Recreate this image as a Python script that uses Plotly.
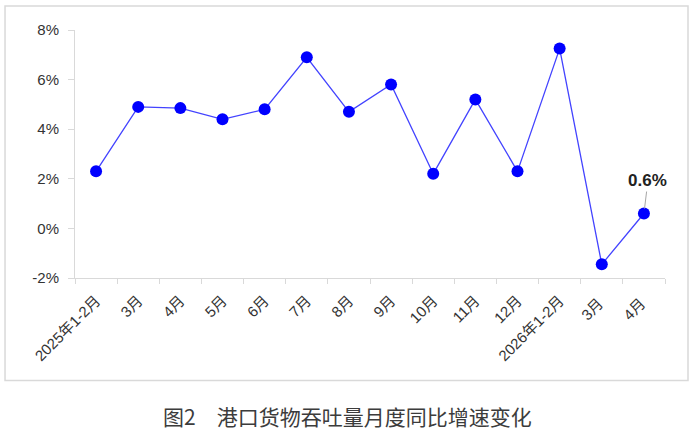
import plotly.graph_objects as go

months = ['2025年1-2月', '3月', '4月', '5月', '6月', '7月', '8月', '9月',
          '10月', '11月', '12月', '2026年1-2月', '3月 ', '4月 ']
growth = [2.3, 4.9, 4.85, 4.4, 4.8, 6.9, 4.7, 5.8, 2.2, 5.2, 2.3, 7.25, -1.45, 0.6]
y_ticks = [-2, 0, 2, 4, 6, 8]
y_labels = ['-2%', '0%', '2%', '4%', '6%', '8%']

fig = go.Figure()
fig.add_trace(go.Scatter(
    x=months, y=growth, mode='lines+markers',
    line=dict(color='#4343ff', width=1.3),
    marker=dict(color='#0000ff', size=12),
    showlegend=False,
))

# label on the last point
fig.add_annotation(
    x=months[-1], y=growth[-1], text='<b>0.6%</b>',
    showarrow=True, arrowhead=0, arrowwidth=1, arrowcolor='#a6a6a6',
    ax=4, ay=-33, standoff=5,
    font=dict(family='Liberation Sans', size=17, color='#222222'),
)

# caption under the chart
fig.add_annotation(
    xref='paper', yref='paper', x=0.4627, y=-0.556, yanchor='middle',
    text='图2\u3000港口货物吞吐量月度同比增速变化', showarrow=False,
    font=dict(family='Noto Sans CJK SC', size=21, color='#3c3c3c'),
)

# outer frame
fig.add_shape(type='rect', xref='paper', yref='paper',
              x0=-0.1186, x1=1.039, y0=-0.413, y1=1.097,
              line=dict(color='#d9d9d9', width=1.5))

axis_font = dict(family='Liberation Sans, Noto Sans CJK SC', size=15, color='#333333')
fig.update_layout(
    width=696, height=432,
    margin=dict(l=75, r=31, t=30, b=154),
    plot_bgcolor='white', paper_bgcolor='white',
    xaxis=dict(type='category', range=[-0.5, 13.5], tickangle=-45, tickson='boundaries',
               ticks='outside', ticklen=5, tickcolor='#d9d9d9', ticklabelstandoff=7,
               showline=True, linecolor='#d9d9d9', linewidth=1,
               showgrid=False, zeroline=False, tickfont=axis_font),
    yaxis=dict(range=[-2, 8], tickvals=y_ticks, ticktext=y_labels,
               ticks='outside', ticklen=6, tickcolor='#d9d9d9', ticklabelstandoff=6,
               showline=True, linecolor='#d9d9d9', linewidth=1,
               showgrid=False, zeroline=False, tickfont=axis_font),
)

fig.write_html('out.html', config={'displayModeBar': False},
               post_script="document.body.style.margin='0';")
